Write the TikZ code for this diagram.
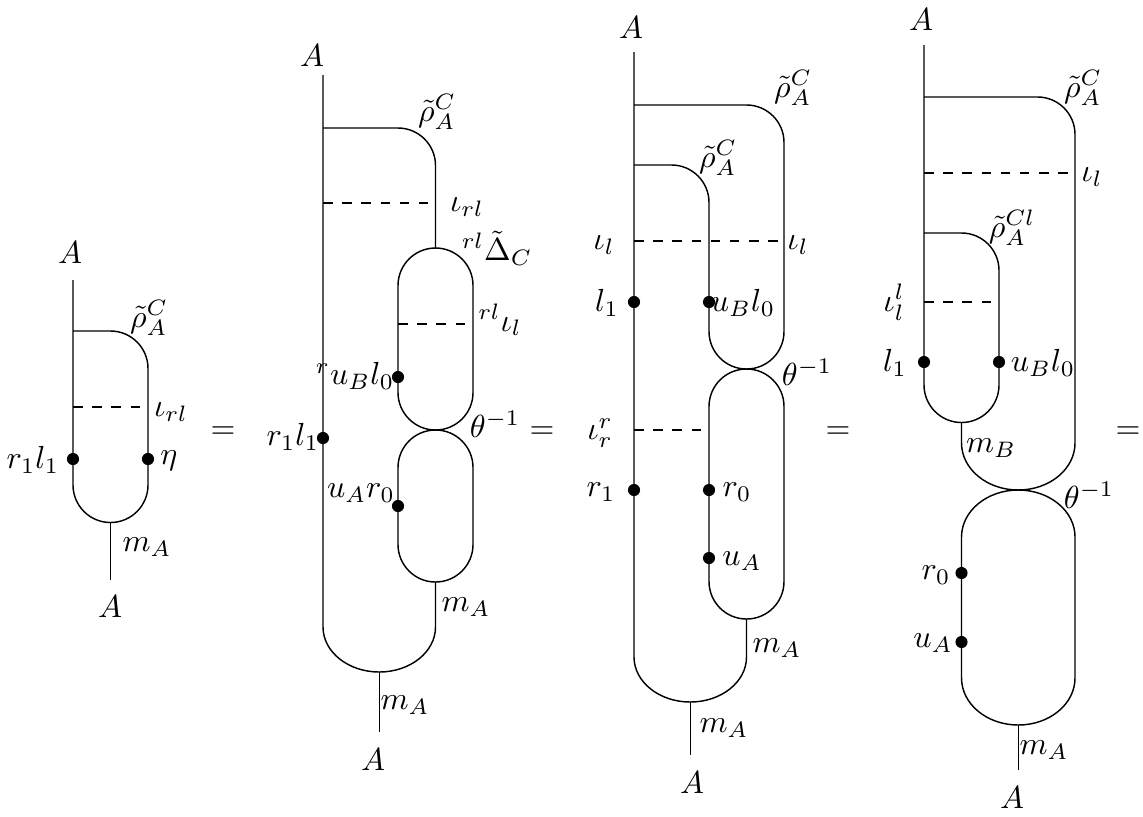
\documentclass[tikz,border=0pt]{standalone}
\usepackage{amsmath}
\usepackage{tikz}
\usetikzlibrary{positioning}

\begin{document}
\begin{tikzpicture}[
  x=0.011cm, y=-0.011cm,
  wire/.style={line width=0.45pt},
  dotted line/.style={wire, dashed},
  bead/.style={circle, fill=black, inner sep=0pt, minimum size=3.8pt},
  lbl/.style={inner sep=0pt}
]
  \useasboundingbox (0,0) rectangle (1143,816);

  % Bild 1: linke Seite
  \node[lbl] (aTopA) at (70,253) {$A$};
  \node[bead] (aL) at (73,459) {};
  \node[bead] (aR) at (148,459) {};
  \draw[wire] (73,280) -- (aL.center) -- (73,485)
    arc[start angle=180,end angle=0,radius=37.5] -- (aR.center) -- (148,368.5)
    arc[start angle=0,end angle=-90,radius=37.5] -- (73,331);
  \draw[wire] (110.5,522.5) -- (110.5,580);
  \draw[dotted line] (73,407) -- (148,407);
  \node[lbl] (aRho) at (149,318) {$\tilde{\rho}^C_A$};
  \node[lbl] (aIota) at (171,412) {$\iota_{rl}$};
  \node[lbl] (aRL) at (33,460) {$r_1l_1$};
  \node[lbl] (aEta) at (169,461) {$\eta$};
  \node[lbl] (aM) at (147,547) {$m_A$};
  \node[lbl] (aBotA) at (110,607) {$A$};
  \node (eq1) at (223,433) {$=$};

  % Bild 2
  \node[lbl] (bTopA) at (312,56) {$A$};
  \node[bead] (bRL) at (323,438) {};
  \node[bead] (bUB) at (398,377) {};
  \node[bead] (bUA) at (398,506) {};
  \draw[wire] (323,75) -- (bRL.center) -- (323,627)
    arc[start angle=180,end angle=0,x radius=56.25,y radius=45] -- (435.5,582);
  \draw[wire] (323,128) -- (398,128)
    arc[start angle=270,end angle=360,radius=37.5] -- (435.5,248);
  % obere Kapsel
  \draw[wire] (398,285.5) arc[start angle=180,end angle=360,radius=37.5]
    -- (473,392.5) arc[start angle=0,end angle=180,radius=37.5] -- cycle;
  % untere Kapsel
  \draw[wire] (398,467.5) arc[start angle=180,end angle=360,radius=37.5]
    -- (473,544.5) arc[start angle=0,end angle=180,radius=37.5] -- cycle;
  \draw[wire] (379.25,672) -- (379.25,732);
  \draw[dotted line] (323,203) -- (435.5,203);
  \draw[dotted line] (398,324) -- (473,324);
  \node[lbl] (bRho) at (437,112) {$\tilde{\rho}^C_A$};
  \node[lbl] (bIota) at (467,207) {$\iota_{rl}$};
  \node[lbl] (bDelta) at (497,248) {${}^{rl}\tilde{\Delta}_C$};
  \node[lbl] (bIotaL) at (500,320) {${}^{rl}\iota_l$};
  \node[lbl] (bUBl) at (355,376) {${}^{r}u_Bl_0$};
  \node[lbl] (bTheta) at (495,424) {$\theta^{-1}$};
  \node[lbl] (bRLl) at (293,437) {$r_1l_1$};
  \node[lbl] (bUAl) at (361,493) {$u_Ar_0$};
  \node[lbl] (bM1) at (466,607) {$m_A$};
  \node[lbl] (bM2) at (405,705) {$m_A$};
  \node[lbl] (bBotA) at (373,760) {$A$};
  \node (eq2) at (542,433) {$=$};

  % Bild 3
  \node[lbl] (cTopA) at (631,28) {$A$};
  \node[bead] (cL1) at (634,302) {};
  \node[bead] (cUB) at (709,302) {};
  \node[bead] (cR1) at (634,490) {};
  \node[bead] (cR0) at (709,490) {};
  \node[bead] (cUA) at (709,558) {};
  \draw[wire] (634,52) -- (cL1.center) -- (cR1.center) -- (634,657)
    arc[start angle=180,end angle=0,x radius=56.25,y radius=45] -- (746.5,619);
  \draw[wire] (634,105) -- (746.5,105)
    arc[start angle=270,end angle=360,radius=37.5] -- (784,331.5);
  \draw[wire] (634,165) -- (671.5,165)
    arc[start angle=270,end angle=360,radius=37.5] -- (cUB.center) -- (709,331.5)
    arc[start angle=180,end angle=0,radius=37.5];
  % untere Kapsel
  \draw[wire] (709,406.5) arc[start angle=180,end angle=360,radius=37.5]
    -- (784,581.5) arc[start angle=0,end angle=180,radius=37.5] -- cycle;
  \draw[wire] (690.25,702) -- (690.25,755);
  \draw[dotted line] (634,241) -- (784,241);
  \draw[dotted line] (634,430) -- (709,430);
  \node[lbl] (cRho1) at (793,88) {$\tilde{\rho}^C_A$};
  \node[lbl] (cRho2) at (718,158) {$\tilde{\rho}^C_A$};
  \node[lbl] (cIotaL) at (604,245) {$\iota_l$};
  \node[lbl] (cIotaR) at (798,245) {$\iota_l$};
  \node[lbl] (cL1l) at (607,303) {$l_1$};
  \node[lbl] (cUBl) at (743,303) {$u_Bl_0$};
  \node[lbl] (cTheta) at (807,372) {$\theta^{-1}$};
  \node[lbl] (cIotaR2) at (600,433) {$\iota^r_r$};
  \node[lbl] (cR1l) at (601,492) {$r_1$};
  \node[lbl] (cR0l) at (737,492) {$r_0$};
  \node[lbl] (cUAl) at (742,561) {$u_A$};
  \node[lbl] (cM1) at (777,648) {$m_A$};
  \node[lbl] (cM2) at (724,728) {$m_A$};
  \node[lbl] (cBotA) at (692,783) {$A$};
  \node (eq3) at (838,433) {$=$};

  % Bild 4
  \node[lbl] (dTopA) at (921,20) {$A$};
  \node[bead] (dL1) at (924,362) {};
  \node[bead] (dUB) at (999,362) {};
  \node[bead] (dR0) at (961.5,573) {};
  \node[bead] (dUA) at (961.5,642) {};
  \draw[wire] (924,45) -- (dL1.center) -- (924,385)
    arc[start angle=180,end angle=0,radius=37.5] -- (dUB.center) -- (999,270.5)
    arc[start angle=0,end angle=-90,radius=37.5] -- (924,233);
  \draw[wire] (924,97) -- (1037.5,97)
    arc[start angle=270,end angle=360,radius=37.5] -- (1075,443)
    arc[start angle=0,end angle=180,x radius=56.75,y radius=47] -- (961.5,422.5);
  % untere Kapsel
  \draw[wire] (961.5,537) arc[start angle=180,end angle=360,x radius=56.75,y radius=47]
    -- (1075,678) arc[start angle=0,end angle=180,x radius=56.75,y radius=47] -- cycle;
  \draw[wire] (1018.25,725) -- (1018.25,770);
  \draw[dotted line] (924,173) -- (1075,173);
  \draw[dotted line] (924,302) -- (999,302);
  \node[lbl] (dRho1) at (1083,88) {$\tilde{\rho}^C_A$};
  \node[lbl] (dIota) at (1092,177) {$\iota_l$};
  \node[lbl] (dRho2) at (1012,228) {$\tilde{\rho}^{Cl}_A$};
  \node[lbl] (dIotaL) at (894,302) {$\iota^l_l$};
  \node[lbl] (dL1l) at (895,363) {$l_1$};
  \node[lbl] (dUBl) at (1043,363) {$u_Bl_0$};
  \node[lbl] (dMB) at (991,448) {$m_B$};
  \node[lbl] (dTheta) at (1089,495) {$\theta^{-1}$};
  \node[lbl] (dR0l) at (936,575) {$r_0$};
  \node[lbl] (dUAl) at (933,643) {$u_A$};
  \node[lbl] (dM) at (1044,750) {$m_A$};
  \node[lbl] (dBotA) at (1012,798) {$A$};
  \node (eq4) at (1128,433) {$=$};
\end{tikzpicture}
\end{document}
